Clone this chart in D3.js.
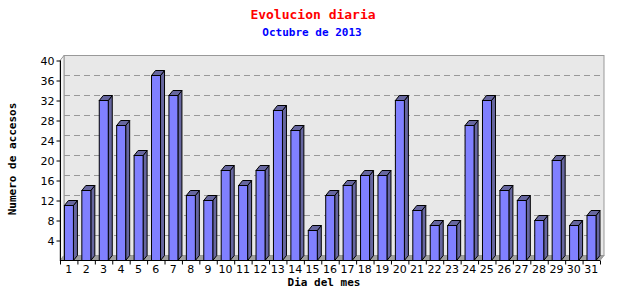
<!DOCTYPE html>
<html>
<head>
<meta charset="utf-8">
<script src="https://cdn.jsdelivr.net/npm/d3@7"></script>
<style>
  body { margin: 0; background: #fff; }
  .tick text { font-family: "DejaVu Sans", sans-serif; font-size: 11px; }
  .mono { font-family: "DejaVu Sans Mono", monospace; font-weight: bold; }
</style>
</head>
<body>
<svg id="chart" width="640" height="300"></svg>
<script>
// accesos por dia, octubre 2013
const days = d3.range(1, 32);
const visits = [11, 14, 32, 27, 21, 37, 33, 13, 12, 18, 15, 18, 30, 26, 6, 13,
  15, 17, 17, 32, 10, 7, 7, 27, 32, 14, 12, 8, 20, 7, 9];
const yTicks = [4, 8, 12, 16, 20, 24, 28, 32, 36, 40];

const svg = d3.select('#chart');
const pLeft = 60, pRight = 600, pTop = 60.5, pBottom = 260.5;
const dx = 4, dy = -5; // profundidad 3D

const x = d3.scaleBand().domain(days).range([pLeft, pRight]);
const y = d3.scaleLinear().domain([0, 40]).range([pBottom, pTop]);

// pared del fondo
svg.append('rect')
  .attr('x', pLeft + dx).attr('y', pTop + dy)
  .attr('width', pRight - pLeft).attr('height', pBottom - pTop)
  .attr('fill', '#e8e8e8').attr('stroke', '#999');

// pared izquierda
svg.append('path')
  .attr('d', `M${pLeft},${pTop}L${pLeft + dx},${pTop + dy}L${pLeft + dx},${pBottom + dy}L${pLeft},${pBottom}Z`)
  .attr('fill', '#f4f4f4').attr('stroke', '#999');

// suelo
svg.append('path')
  .attr('d', `M${pLeft},${pBottom}L${pLeft + dx},${pBottom + dy}L${pRight + dx},${pBottom + dy}L${pRight},${pBottom}Z`)
  .attr('fill', '#a0a0a0').attr('stroke', '#999');

// lineas de rejilla
svg.append('g').selectAll('line')
  .data(yTicks.slice(0, -1))
  .join('line')
  .attr('x1', pLeft + dx).attr('x2', pRight + dx)
  .attr('y1', (d) => y(d) + dy).attr('y2', (d) => y(d) + dy)
  .attr('stroke', '#999').attr('stroke-dasharray', '6,4');

// barras
const bw = 9;
const off = x.bandwidth() - bw - dx;
const bars = svg.append('g').selectAll('g')
  .data(days.map((d, i) => ({day: d, v: visits[i]})))
  .join('g');

bars.append('path') // lateral
  .attr('d', (d) => {
    const x1 = x(d.day) + off + bw, y1 = y(d.v), y0 = y(0);
    return `M${x1},${y1}L${x1 + dx},${y1 + dy}L${x1 + dx},${y0 + dy}L${x1},${y0}Z`;
  })
  .attr('fill', '#66669f').attr('stroke', '#000');

bars.append('path') // tapa
  .attr('d', (d) => {
    const x0 = x(d.day) + off, y1 = y(d.v);
    return `M${x0},${y1}L${x0 + dx},${y1 + dy}L${x0 + bw + dx},${y1 + dy}L${x0 + bw},${y1}Z`;
  })
  .attr('fill', '#66669f').attr('stroke', '#000');

bars.append('rect') // frente
  .attr('x', (d) => x(d.day) + off)
  .attr('y', (d) => y(d.v))
  .attr('width', bw)
  .attr('height', (d) => y(0) - y(d.v))
  .attr('fill', '#8080ff').attr('stroke', '#000');

// eje Y
const yAxis = svg.append('g')
  .attr('transform', `translate(${pLeft + 0.5},0)`)
  .call(d3.axisLeft(y).tickValues(yTicks).tickSize(4).tickPadding(2));
yAxis.select('.domain').attr('d', `M0,${pBottom}V${pTop}`);

// eje X: marcas en los limites, etiquetas centradas
const xAxis = svg.append('g')
  .attr('transform', `translate(0,${pBottom})`)
  .call(d3.axisBottom(x).tickSize(0).tickPadding(5));
xAxis.select('.domain').attr('d', `M${pLeft},0H${pRight}`);
xAxis.selectAll('.bound')
  .data(days.concat([32]))
  .join('line')
  .attr('x1', (d) => (d === 32 ? pRight : x(d)) + 0.5)
  .attr('x2', (d) => (d === 32 ? pRight : x(d)) + 0.5)
  .attr('y1', 0).attr('y2', 4)
  .attr('stroke', '#000');

// titulos
svg.append('text').attr('class', 'mono')
  .attr('x', 313).attr('y', 19).attr('text-anchor', 'middle')
  .attr('font-size', 13).attr('fill', '#ff0000')
  .text('Evolucion diaria');
svg.append('text').attr('class', 'mono')
  .attr('x', 312).attr('y', 36).attr('text-anchor', 'middle')
  .attr('font-size', 11).attr('fill', '#0000ff')
  .text('Octubre de 2013');
svg.append('text').attr('class', 'mono')
  .attr('x', 324).attr('y', 286).attr('text-anchor', 'middle')
  .attr('font-size', 11)
  .text('Dia del mes');
svg.append('text').attr('class', 'mono')
  .attr('transform', 'translate(16,159) rotate(-90)')
  .attr('text-anchor', 'middle')
  .attr('font-size', 11)
  .text('Numero de accesos');
</script>
</body>
</html>
